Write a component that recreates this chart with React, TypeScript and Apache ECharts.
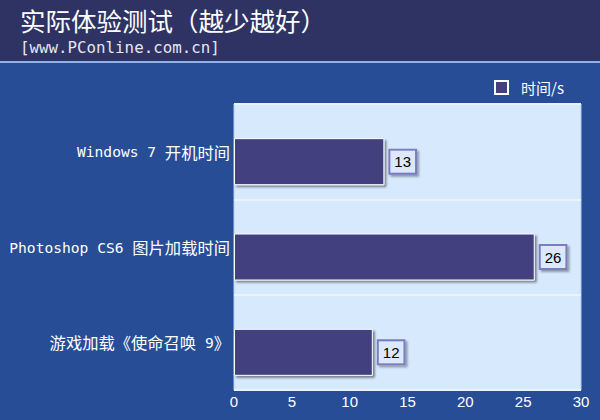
import React, { useEffect, useRef } from "react";
import * as echarts from "echarts";

const categories = ["Windows 7 开机时间", "Photoshop CS6 图片加载时间", "游戏加载《使命召唤 9》"];
const timeValues = [13, 26, 12];
const spacerValues = [0, 0, 0];
const seriesName = "时间/s";
const titleText = "实际体验测试（越少越好）";
const subtitleText = "[www.PConline.com.cn]";

function splitRuns(s: string): string {
  const parts = s.match(/[\u3000-\u9fff\uff00-\uffef]+|[^\u3000-\u9fff\uff00-\uffef]+/g) || [s];
  return parts
    .map((p) => (/[\u3000-\u9fff\uff00-\uffef]/.test(p) ? `{c|${p}}` : `{l|${p}}`))
    .join("");
}

export default function App() {
  const ref = useRef<HTMLDivElement>(null);
  useEffect(() => {
    if (!ref.current) return;
    const chart = echarts.init(ref.current, undefined, { renderer: "svg" });
    chart.setOption({
      animation: false,
      backgroundColor: "#274d97",
      graphic: [
        { type: "rect", left: 0, top: 0, shape: { width: 600, height: 61 }, style: { fill: "#2e3363" }, z: -10 },
        { type: "rect", left: 0, top: 61, shape: { width: 600, height: 2 }, style: { fill: "#8fb2e6" }, z: -10 },
        {
          type: "text", left: 20, top: 7,
          style: { text: titleText, fill: "#ffffff", font: "25.5px 'Noto Sans CJK SC'", lineHeight: 25 },
        },
        {
          type: "text", left: 20, top: 39,
          style: { text: subtitleText, fill: "#e6e6f0", font: "15.8px 'DejaVu Sans Mono'", lineHeight: 15 },
        },
      ],
      legend: {
        data: [seriesName],
        left: 489, top: 75,
        itemWidth: 13, itemHeight: 13,
        icon: "rect",
        itemStyle: { borderColor: "#ffffff", borderWidth: 2, color: "#433f80" },
        textStyle: { color: "#ffffff", fontSize: 15, fontFamily: "'Noto Sans CJK SC'", padding: [0, 0, 0, 8] },
      },
      grid: {
        left: 234, right: 19, top: 104, bottom: 30,
        show: true, backgroundColor: "#d6e9fd", borderColor: "#b4d0f2", borderWidth: 1,
      },
      xAxis: {
        type: "value", min: 0, max: 30, interval: 5,
        axisLine: { show: false }, axisTick: { show: false }, splitLine: { show: false },
        axisLabel: { color: "#ffffff", fontSize: 15, fontFamily: "'Liberation Sans', Arial", margin: 4 },
      },
      yAxis: {
        type: "category", data: categories, inverse: true,
        axisLine: { show: false }, axisTick: { show: false },
        splitLine: { show: true, lineStyle: { color: "#e8f3ff", width: 2 } },
        axisLabel: {
          color: "#ffffff", margin: 4,
          formatter: (v: string) => splitRuns(v),
          rich: {
            l: { color: "#ffffff", fontSize: 14.6, fontFamily: "'DejaVu Sans Mono'" },
            c: { color: "#ffffff", fontSize: 16.3, fontFamily: "'Noto Sans CJK SC'" },
          },
        },
      },
      series: [
        {
          name: "spacer", type: "bar", data: spacerValues, barWidth: 20, barGap: "0%",
          itemStyle: { color: "transparent" }, silent: true,
        },
        {
          name: seriesName, type: "bar", data: timeValues, barWidth: 47, barGap: "0%",
          itemStyle: {
            color: "#423f7e", borderColor: "#ffffff", borderWidth: 1,
            shadowColor: "rgba(0,0,0,0.45)", shadowOffsetX: 2, shadowOffsetY: 2, shadowBlur: 2,
          },
          label: {
            show: true, position: "right", distance: 6,
            color: "#000000", fontSize: 15, fontFamily: "'Liberation Sans', Arial",
            backgroundColor: "#dbe8fd", borderColor: "#7c7cc0", borderWidth: 2,
            padding: [4, 4, 3, 4],
            shadowColor: "rgba(0,0,0,0.35)", shadowOffsetX: 2, shadowOffsetY: 2, shadowBlur: 2,
          },
        },
      ],
    });
    return () => chart.dispose();
  }, []);
  return <div ref={ref} style={{ position: "fixed", left: 0, top: 0, width: 600, height: 420 }} />;
}
